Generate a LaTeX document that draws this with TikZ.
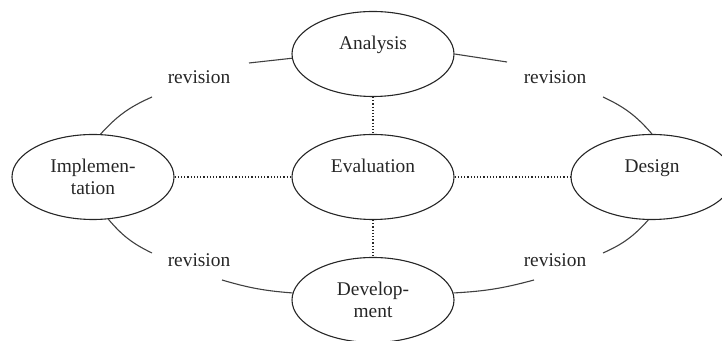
\documentclass[tikz,border=0pt]{standalone}
\usepackage{fontspec}
\setmainfont{Liberation Serif}
\usetikzlibrary{shapes.geometric}

\begin{document}
\begin{tikzpicture}[x=0.5pt,y=-0.5pt,
    phase/.style={ellipse,draw=black!85,line width=0.55pt,minimum width=81pt,minimum height=42.5pt,inner sep=0pt,align=center,text=black!85,font=\fontsize{9.7}{11}\selectfont},
    rev/.style={text=black!85,font=\fontsize{9.7}{11}\selectfont},
    link/.style={draw=black!85,line width=0.6pt,densely dotted},
    loopline/.style={draw=black!75,line width=0.55pt}]

            \useasboundingbox (0,0) rectangle (722,341);
            \clip (0,0) rectangle (722,341);

            \path   (373,54)  node (ana) [phase] {Analysis\\\mbox{}}
                    (93,177)  node (impl) [phase] {Implemen-\\tation}
                    (373,177) node (eval) [phase] {Evaluation\\\mbox{}}
                    (652,177) node (des) [phase] {Design\\\mbox{}}
                    (373,300) node (dev) [phase] {Develop-\\ment};

            \path   (199,77)  node (revtl) [rev] {revision}
                    (555,77)  node (revtr) [rev] {revision}
                    (199,260) node (revbl) [rev] {revision}
                    (555,260) node (revbr) [rev] {revision};

            \coordinate (tl1) at (249,63);
            \coordinate (tl2) at (152,97);
            \coordinate (tr1) at (507,62);
            \coordinate (tr2) at (603,97);
            \coordinate (bl1) at (152,253);
            \coordinate (bl2) at (222,280);
            \coordinate (br1) at (534,280);
            \coordinate (br2) at (603,253);

            \draw[link] (ana) -- (eval);
            \draw[link] (impl) -- (eval);
            \draw[link] (eval) -- (des);
            \draw[link] (eval) -- (dev);

            \draw[loopline] (ana.183) -- (tl1);
            \draw[loopline] (impl.80) to[bend left=12] (tl2);
            \draw[loopline] (ana.east) -- (tr1);
            \draw[loopline] (des.north) to[bend right=12] (tr2);
            \draw[loopline] (impl.-70) to[bend right=12] (bl1);
            \draw[loopline] (dev.175) to[bend left=6] (bl2);
            \draw[loopline] (dev.5) to[bend right=6] (br1);
            \draw[loopline] (des.-95) to[bend left=12] (br2);
\end{tikzpicture}
\end{document}
